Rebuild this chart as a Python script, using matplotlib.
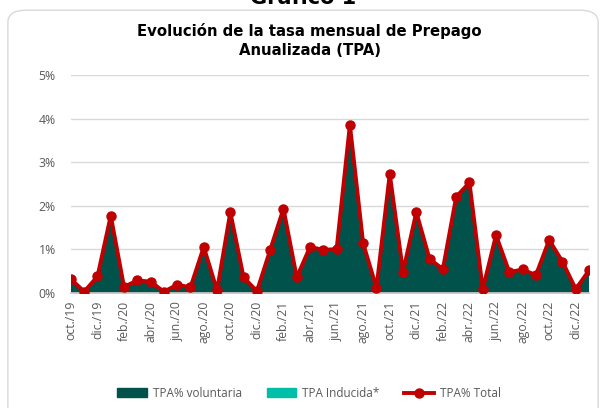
import matplotlib.pyplot as plt
from matplotlib.patches import FancyBboxPatch, Patch
from matplotlib.lines import Line2D

months = ["oct./19", "nov./19", "dic./19", "ene./20", "feb./20", "mar./20", "abr./20", "may./20",
          "jun./20", "jul./20", "ago./20", "sep./20", "oct./20", "nov./20", "dic./20", "ene./21",
          "feb./21", "mar./21", "abr./21", "may./21", "jun./21", "jul./21", "ago./21", "sep./21",
          "oct./21", "nov./21", "dic./21", "ene./22", "feb./22", "mar./22", "abr./22", "may./22",
          "jun./22", "jul./22", "ago./22", "sep./22", "oct./22", "nov./22", "dic./22", "ene./23"]

tpa_total = [0.31, 0.02, 0.37, 1.77, 0.13, 0.28, 0.25, 0.02, 0.18, 0.12,
             1.05, 0.05, 1.85, 0.35, 0.03, 0.98, 1.93, 0.35, 1.05, 0.98,
             1.00, 3.86, 1.13, 0.11, 2.73, 0.48, 1.85, 0.77, 0.54, 2.20,
             2.53, 0.08, 1.32, 0.47, 0.53, 0.40, 1.21, 0.71, 0.08, 0.51]
tpa_inducida = [0.0, 0.0, 0.0, 0.0, 0.0, 0.0, 0.0, 0.0, 0.0, 0.0,
                0.0, 0.0, 0.0, 0.0, 0.0, 0.0, 0.0, 0.0, 0.0, 0.0,
                0.0, 0.0, 0.0, 0.0, 0.0, 0.0, 0.0, 0.0, 0.0, 0.0,
                0.0, 0.0, 0.0, 0.0, 0.0, 0.0, 0.0, 0.0, 0.0, 0.0]
tpa_voluntaria = [t - i for t, i in zip(tpa_total, tpa_inducida)]

c_vol = "#00524A"
c_ind = "#00BFA8"
c_tot = "#C00000"
gray = "#595959"

fig = plt.figure(figsize=(6.06, 4.08), dpi=100)

# rounded frame around chart
frame = FancyBboxPatch((0.013, -0.05), 0.974, 1.025, boxstyle="round,pad=0,rounding_size=0.03",
                       transform=fig.transFigure, facecolor="white", edgecolor="#D9D9D9",
                       linewidth=1, zorder=-5)
fig.patches.append(frame)

fig.text(0.5, 1.006, "Gráfico 1", ha="center", va="center", fontsize=15, fontweight="bold")
fig.text(0.511, 0.9, "Evolución de la tasa mensual de Prepago\nAnualizada (TPA)",
         ha="center", va="center", fontsize=10.7, fontweight="bold", linespacing=1.35)

ax = fig.add_axes([0.117, 0.283, 0.855, 0.533])
ax.patch.set_alpha(0)
x = list(range(len(months)))
ax.stackplot(x, tpa_voluntaria, tpa_inducida, colors=[c_vol, c_ind], zorder=2)
ax.plot(x, tpa_total, color=c_tot, lw=2.8, marker="o", ms=6.5, zorder=3)

ax.set_xlim(0, len(months) - 1)
ax.set_ylim(0, 5)
ax.set_yticks([0, 1, 2, 3, 4, 5])
ax.set_yticklabels([f"{v}%" for v in range(6)])
ax.set_xticks(x[::2])
ax.set_xticklabels(months[::2], rotation=90)
ax.tick_params(axis="both", length=0, colors=gray, labelsize=8.8)
ax.tick_params(axis="y", pad=11)
ax.tick_params(axis="x", pad=6)
for lab in ax.get_xticklabels() + ax.get_yticklabels():
    lab.set_fontfamily("Open Sans")
ax.grid(axis="y", color="#D9D9D9", lw=1)
ax.set_axisbelow(True)
for s in ["top", "right", "left"]:
    ax.spines[s].set_visible(False)
ax.spines["bottom"].set_color("#BFBFBF")
ax.spines["bottom"].set_linewidth(1.2)

handles = [Patch(color=c_vol, label="TPA% voluntaria"),
           Patch(color=c_ind, label="TPA Inducida*"),
           Line2D([0], [0], color=c_tot, lw=2.8, marker="o", ms=6.5, label="TPA% Total")]
leg = fig.legend(handles=handles, loc="center", bbox_to_anchor=(0.51, 0.036), ncol=3,
                 frameon=False, handlelength=2.5, handleheight=0.8, handletextpad=0.5,
                 columnspacing=2.1, prop={"family": "Open Sans", "size": 8.5})
for t in leg.get_texts():
    t.set_color(gray)

fig.savefig("out.png", dpi=100)
